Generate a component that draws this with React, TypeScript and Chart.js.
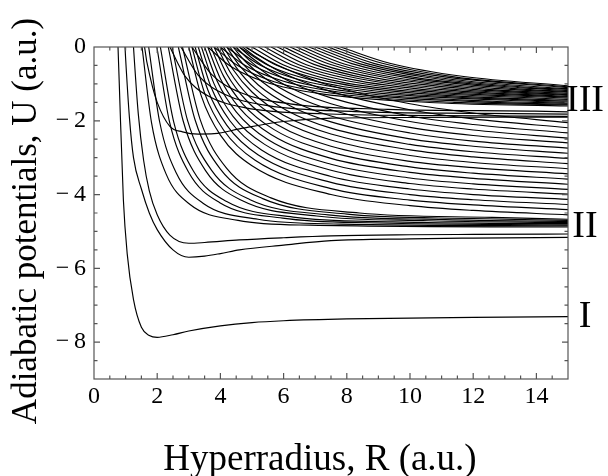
import React, { useEffect, useRef } from 'react';
import { Chart, registerables } from 'chart.js';

Chart.register(...registerables);

type Pt = [number, number];

// Lowest channel (threshold I)
const curveI: Pt[] = [
  [0.72, 1.0], [0.8, -1.0], [0.93, -4.15], [1.05, -5.6], [1.25, -6.85], [1.5, -7.6], [1.75, -7.82],
  [2.0, -7.87], [2.5, -7.8], [3, -7.7], [4, -7.56], [5, -7.47], [6, -7.42], [8, -7.37], [10, -7.35],
  [12, -7.33], [15, -7.31],
];

// Two lowest channels of threshold II
const curveIIa: Pt[] = [
  [0.92, 1.0], [1.0, -0.3], [1.12, -1.9], [1.25, -3.0], [1.5, -3.85], [1.75, -4.5], [2.0, -4.95],
  [2.5, -5.5], [3.0, -5.7], [3.5, -5.67], [4.0, -5.6], [4.6, -5.5], [6, -5.37], [7.5, -5.25],
  [10, -5.2], [12, -5.18], [15, -5.16],
];
const curveIIb: Pt[] = [
  [1.18, 1.0], [1.25, 0], [1.4, -1.8], [1.57, -3.07], [1.75, -3.9], [2.0, -4.55], [2.4, -5.1],
  [3.0, -5.32], [3.5, -5.3], [4.6, -5.23], [6, -5.17], [7.5, -5.12], [10, -5.09], [12, -5.08], [15, -5.07],
];

// Channel with a shallow well near R = 3.5 (goes to threshold III)
const curveWellIII: Pt[] = [
  [1.5, 1.0], [1.6, 0], [1.8, -0.9], [2.0, -1.5], [2.4, -2.15], [2.8, -2.3], [3.3, -2.36], [3.8, -2.35],
  [4.7, -2.2], [6, -2.02], [7.5, -1.93], [10, -1.91], [15, -1.9],
];

// Channels that settle into the band II
const bandIICurves: Pt[][] = [
  [[1.52, 0], [1.82, -2.05], [2.28, -3.44], [3.04, -4.27], [4.56, -4.7], [6.84, -4.83], [15, -4.88]],
  [[1.73, 0], [2.08, -2.04], [2.6, -3.41], [3.46, -4.24], [5.19, -4.67], [7.79, -4.8], [15, -4.85]],
  [[1.99, 0], [2.39, -2.03], [2.99, -3.39], [3.98, -4.22], [5.97, -4.64], [8.96, -4.77], [15, -4.82]],
  [[2.1, 0], [2.52, -2.02], [3.15, -3.37], [4.2, -4.19], [6.3, -4.61], [9.45, -4.74], [15, -4.79]],
  [[2.35, 0], [2.82, -2.0], [3.53, -3.35], [4.7, -4.17], [7.05, -4.58], [10.58, -4.71], [15, -4.76]],
  [[2.47, 0], [2.96, -1.99], [3.71, -3.33], [4.94, -4.14], [7.41, -4.55], [11.12, -4.68], [15, -4.73]],
  [[2.67, 0], [3.2, -1.98], [4.0, -3.31], [5.34, -4.11], [8.01, -4.53], [12.0, -4.65], [15, -4.7]],
  [[2.8, 0], [3.36, -1.97], [4.2, -3.29], [5.6, -4.09], [8.4, -4.5], [12.6, -4.62], [15, -4.67]],
];

// Slowly descending channels between bands II and III
const fanCurves: Pt[][] = [
  [[3.0, 0], [3.4, -1.34], [4.0, -2.39], [5.0, -3.22], [7.5, -4.0], [10, -4.3], [12, -4.43], [15, -4.55]],
  [[3.1, 0], [3.5, -1.25], [4.1, -2.25], [5.1, -3.07], [7.5, -3.84], [10, -4.15], [12, -4.28], [15, -4.41]],
  [[3.2, 0], [3.6, -1.16], [4.2, -2.12], [5.2, -2.93], [7.5, -3.67], [10, -4.0], [12, -4.14], [15, -4.27]],
  [[3.3, 0], [3.7, -1.08], [4.3, -2.0], [5.3, -2.79], [7.5, -3.51], [10, -3.85], [12, -4.0], [15, -4.13]],
  [[3.4, 0], [3.8, -1.0], [4.4, -1.88], [5.4, -2.64], [7.5, -3.34], [10, -3.7], [12, -3.85], [15, -3.99]],
  [[3.5, 0], [3.9, -0.93], [4.5, -1.76], [5.5, -2.51], [7.5, -3.18], [10, -3.55], [12, -3.71], [15, -3.86]],
  [[3.6, 0], [4.0, -0.86], [4.6, -1.65], [5.6, -2.37], [7.5, -3.02], [10, -3.4], [12, -3.56], [15, -3.72]],
  [[3.7, 0], [4.1, -0.79], [4.7, -1.54], [5.7, -2.24], [7.5, -2.85], [10, -3.25], [12, -3.42], [15, -3.58]],
  [[3.8, 0], [4.2, -0.73], [4.8, -1.43], [5.8, -2.11], [7.5, -2.69], [10, -3.1], [12, -3.27], [15, -3.44]],
  [[3.9, 0], [4.3, -0.67], [4.9, -1.33], [5.9, -1.97], [7.5, -2.52], [10, -2.94], [12, -3.13], [15, -3.3]],
  [[4.0, 0], [4.4, -0.61], [5.0, -1.22], [6.0, -1.85], [7.5, -2.36], [10, -2.79], [12, -2.98], [15, -3.16]],
  [[4.1, 0], [4.5, -0.55], [5.1, -1.13], [6.1, -1.72], [7.5, -2.2], [10, -2.64], [12, -2.84], [15, -3.02]],
  [[4.2, 0], [4.6, -0.5], [5.2, -1.03], [6.2, -1.59], [7.5, -2.03], [10, -2.49], [12, -2.69], [15, -2.88]],
  [[4.3, 0], [4.7, -0.45], [5.3, -0.93], [6.3, -1.47], [7.5, -1.87], [10, -2.33], [12, -2.55], [15, -2.74]],
  [[4.4, 0], [4.8, -0.4], [5.4, -0.84], [6.4, -1.34], [7.5, -1.7], [10, -2.18], [12, -2.4], [15, -2.6]],
  [[4.5, 0], [4.9, -0.35], [5.5, -0.75], [6.5, -1.22], [7.5, -1.54], [10, -2.02], [12, -2.25], [15, -2.47]],
  [[4.6, 0], [5.0, -0.3], [5.6, -0.66], [6.6, -1.1], [7.5, -1.38], [10, -1.87], [12, -2.1], [15, -2.33]],
  [[4.7, 0], [5.1, -0.26], [5.7, -0.58], [6.7, -0.97], [7.5, -1.21], [10, -1.7], [12, -1.95], [15, -2.19]],
  [[4.8, 0], [5.2, -0.22], [5.8, -0.49], [6.8, -0.85], [7.5, -1.05], [10, -1.54], [12, -1.79], [15, -2.05]],
];

// Channels converging to the band III
const bandIIICurves: Pt[][] = [
  [[3.6, 0], [4.32, -0.52], [5.4, -0.94], [7.2, -1.27], [10.8, -1.51], [15, -1.6]],
  [[3.8, 0], [4.56, -0.51], [5.7, -0.94], [7.6, -1.26], [11.4, -1.5], [15, -1.57]],
  [[4.0, 0], [4.8, -0.51], [6.0, -0.93], [8.0, -1.25], [12.0, -1.48], [15, -1.55]],
  [[4.2, 0], [5.04, -0.5], [6.3, -0.92], [8.4, -1.24], [12.6, -1.47], [15, -1.52]],
  [[4.4, 0], [5.28, -0.5], [6.6, -0.91], [8.8, -1.23], [13.2, -1.45], [15, -1.5]],
  [[4.6, 0], [5.52, -0.5], [6.9, -0.9], [9.2, -1.22], [13.8, -1.44], [15, -1.47]],
  [[4.8, 0], [5.76, -0.49], [7.2, -0.89], [9.6, -1.21], [14.4, -1.43], [15, -1.44]],
  [[5.0, 0], [6.0, -0.49], [7.5, -0.89], [10.0, -1.2], [15, -1.42]],
  [[5.2, 0], [6.24, -0.48], [7.8, -0.88], [10.4, -1.19], [15, -1.39]],
  [[5.4, 0], [6.48, -0.48], [8.1, -0.87], [10.8, -1.18], [15, -1.36]],
  [[5.6, 0], [6.72, -0.48], [8.4, -0.86], [11.2, -1.17], [15, -1.34]],
  [[5.8, 0], [6.96, -0.47], [8.7, -0.86], [11.6, -1.16], [15, -1.31]],
  [[6.0, 0], [7.2, -0.47], [9.0, -0.85], [12.0, -1.15], [15, -1.29]],
  [[6.2, 0], [7.44, -0.46], [9.3, -0.84], [12.4, -1.14], [15, -1.26]],
  [[6.4, 0], [7.68, -0.46], [9.6, -0.84], [12.8, -1.13], [15, -1.23]],
  [[6.6, 0], [7.92, -0.46], [9.9, -0.83], [13.2, -1.12], [15, -1.21]],
  [[6.8, 0], [8.16, -0.45], [10.2, -0.83], [13.6, -1.11], [15, -1.18]],
  [[7.0, 0], [8.4, -0.45], [10.5, -0.82], [14.0, -1.11], [15, -1.15]],
  [[7.2, 0], [8.64, -0.45], [10.8, -0.82], [14.4, -1.1], [15, -1.13]],
  [[7.4, 0], [8.88, -0.45], [11.1, -0.81], [15, -1.1]],
  [[7.6, 0], [9.12, -0.44], [11.4, -0.81], [15, -1.08]],
  [[7.8, 0], [9.36, -0.44], [11.7, -0.8], [15, -1.05]],
];

// Flat channels at the lower edge of band III
const flatIIICurves: Pt[][] = [
  [[2.4, 0], [2.88, -0.79], [3.6, -1.32], [4.8, -1.65], [7.2, -1.81], [10.8, -1.86], [15, -1.88]],
  [[2.75, 0], [3.3, -0.77], [4.13, -1.28], [5.5, -1.59], [8.25, -1.75], [12.38, -1.8], [15, -1.82]],
  [[3.1, 0], [3.72, -0.74], [4.65, -1.24], [6.2, -1.54], [9.3, -1.69], [13.95, -1.74], [15, -1.76]],
];

const xTickValues = [0, 2, 4, 6, 8, 10, 12, 14];
const yTickValues = [0, -2, -4, -6, -8];
const rightLabels = ['III', 'II', 'I'];
const rightLabelValues = [-1.47, -4.88, -7.31];
const xTitle = 'Hyperradius, R (a.u.)';
const yTitle = 'Adiabatic potentials, U (a.u.)';

const SERIF = "'Liberation Serif', 'Times New Roman', serif";

const decorPlugin = {
  id: 'decor',
  beforeDraw(chart: any) {
    const { ctx, width, height } = chart;
    ctx.save();
    ctx.fillStyle = '#fff';
    ctx.fillRect(0, 0, width, height);
    ctx.restore();
  },
  afterDatasetsDraw(chart: any) {
    const { ctx, chartArea: a, scales } = chart;
    const xs = scales.x;
    const ys = scales.y;
    ctx.save();
    ctx.strokeStyle = '#555';
    ctx.lineWidth = 1.2;
    ctx.strokeRect(a.left, a.top, a.right - a.left, a.bottom - a.top);
    ctx.beginPath();
    for (let i = 1; i < 30; i++) {
      const v = i * 0.5;
      const px = xs.getPixelForValue(v);
      const len = xTickValues.includes(v) ? 6 : 3.5;
      ctx.moveTo(px, a.bottom);
      ctx.lineTo(px, a.bottom - len);
      ctx.moveTo(px, a.top);
      ctx.lineTo(px, a.top + len);
    }
    for (let i = 1; i < 18; i++) {
      const v = -i * 0.5;
      const py = ys.getPixelForValue(v);
      const len = yTickValues.includes(v) ? 6 : 3.5;
      ctx.moveTo(a.left, py);
      ctx.lineTo(a.left + len, py);
      ctx.moveTo(a.right, py);
      ctx.lineTo(a.right - len, py);
    }
    ctx.stroke();

    ctx.fillStyle = '#000';
    ctx.font = `37px ${SERIF}`;
    ctx.textAlign = 'center';
    ctx.textBaseline = 'alphabetic';
    ctx.fillText(xTitle, 320, 470);

    ctx.save();
    ctx.translate(36, 221);
    ctx.rotate(-Math.PI / 2);
    ctx.font = `35px ${SERIF}`;
    ctx.fillText(yTitle, 0, 0);
    ctx.restore();

    ctx.font = `38px ${SERIF}`;
    ctx.textBaseline = 'middle';
    rightLabels.forEach((t, i) => {
      ctx.fillText(t, a.right + 17, ys.getPixelForValue(rightLabelValues[i]));
    });
    ctx.restore();
  },
};

export default function App() {
  const ref = useRef<HTMLCanvasElement>(null);
  useEffect(() => {
    if (!ref.current) return;
    const all: Pt[][] = [
      curveI, curveIIa, curveIIb, curveWellIII,
      ...bandIICurves, ...fanCurves, ...bandIIICurves, ...flatIIICurves,
    ];
    const datasets = all.map((c) => ({
      data: c.map(([x, y]) => ({ x, y })),
      borderColor: '#000',
      borderWidth: 1.15,
      pointRadius: 0,
      fill: false,
      cubicInterpolationMode: 'monotone' as const,
    }));
    const chart = new Chart(ref.current, {
      type: 'line',
      data: { datasets },
      options: {
        animation: false,
        responsive: false,
        events: [],
        layout: { padding: { left: 0, right: 40, top: 47, bottom: 0 } },
        elements: { line: { capBezierPoints: false } },
        plugins: { legend: { display: false }, tooltip: { enabled: false } },
        scales: {
          x: {
            type: 'linear',
            min: 0,
            max: 15,
            grid: { display: false, drawTicks: false },
            border: { display: false },
            afterBuildTicks: (s: any) => {
              s.ticks = xTickValues.map((v) => ({ value: v }));
            },
            afterFit: (s: any) => {
              s.height = 97;
            },
            ticks: {
              font: { family: SERIF, size: 24 },
              color: '#000',
              padding: 3,
              maxRotation: 0,
              autoSkip: false,
              callback: (v: any) => String(v),
            },
          },
          y: {
            type: 'linear',
            min: -9,
            max: 0,
            grid: { display: false, drawTicks: false },
            border: { display: false },
            afterBuildTicks: (s: any) => {
              s.ticks = yTickValues.map((v) => ({ value: v }));
            },
            afterFit: (s: any) => {
              s.width = 94;
            },
            ticks: {
              font: { family: SERIF, size: 24 },
              color: '#000',
              padding: 8,
              autoSkip: false,
              callback: (v: any) => (Number(v) === 0 ? '0' : '\u2212\u2009' + Math.abs(Number(v))),
            },
          },
        },
      },
      plugins: [decorPlugin],
    });
    return () => chart.destroy();
  }, []);
  return (
    <div style={{ position: 'absolute', left: 0, top: 0, width: 608, height: 476, background: '#fff' }}>
      <canvas ref={ref} width={608} height={476} style={{ display: 'block' }} />
    </div>
  );
}
